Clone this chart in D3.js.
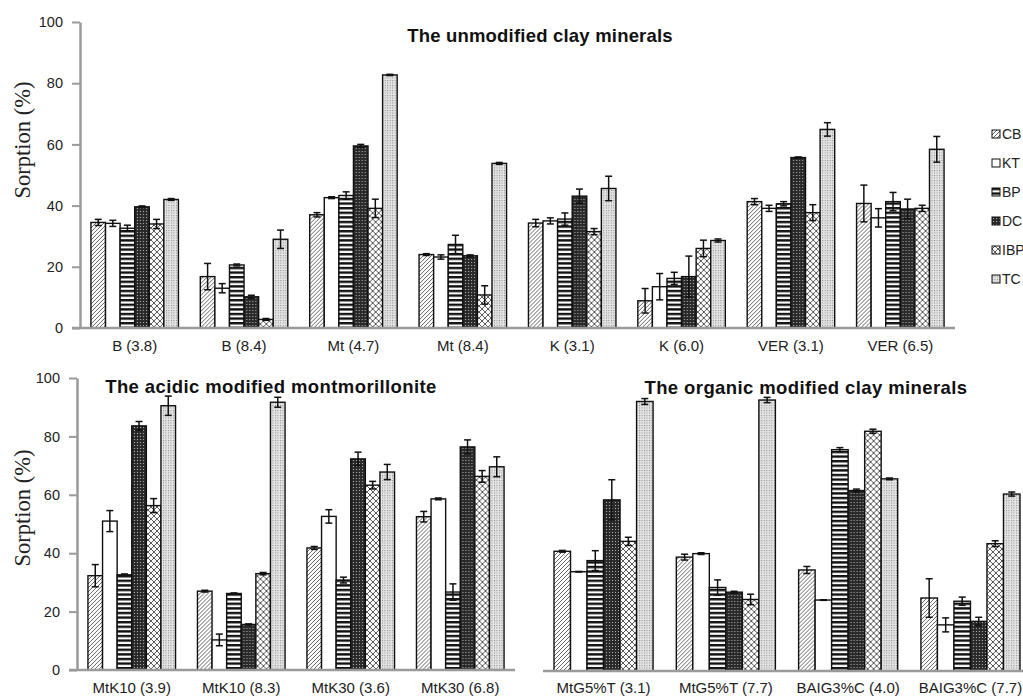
<!DOCTYPE html>
<html>
<head>
<meta charset="utf-8">
<script src="https://cdn.jsdelivr.net/npm/d3@7"></script>
<style>
  body { margin: 0; background: #fff; }
  svg { display: block; }
  .tick text { font-family: 'Liberation Sans', Arial, sans-serif; fill: #222; }
  .title { font-family: 'Liberation Sans', Arial, sans-serif; font-weight: bold; font-size: 18.5px; fill: #111; }
  .axis-label { font-family: 'Liberation Serif', 'Times New Roman', serif; font-size: 22.5px; fill: #222; }
  .legend text { font-family: 'Liberation Sans', Arial, sans-serif; font-size: 14px; fill: #222; }
</style>
</head>
<body>
<svg width="1023" height="699"></svg>
<script>
// series (compounds)
const series = ['CB', 'KT', 'BP', 'DC', 'IBP', 'TC'];

// unmodified clay minerals
const topCategories = ['B (3.8)', 'B (8.4)', 'Mt (4.7)', 'Mt (8.4)', 'K (3.1)', 'K (6.0)', 'VER (3.1)', 'VER (6.5)'];
const topValues = [
  [34.5, 34.2, 32.6, 39.6, 34.0, 42.0],
  [16.8, 13.0, 20.6, 10.2, 2.8, 29.0],
  [37.0, 42.6, 43.3, 59.5, 39.1, 82.7],
  [24.0, 23.2, 27.3, 23.6, 10.8, 53.8],
  [34.3, 35.0, 35.6, 43.1, 31.5, 45.6],
  [8.9, 13.5, 16.2, 16.8, 26.0, 28.6],
  [41.3, 39.1, 40.6, 55.7, 37.7, 64.9],
  [40.7, 36.0, 41.3, 38.9, 39.1, 58.4]
];
const topErrors = [
  [1.0, 1.0, 1.0, 0.3, 1.5, 0.3],
  [4.3, 1.5, 0.3, 0.5, 0.3, 3.0],
  [0.7, 0.3, 1.2, 0.5, 3.0, 0.2],
  [0.3, 0.7, 3.0, 0.3, 3.0, 0.3],
  [1.2, 1.0, 2.0, 2.3, 1.0, 4.0],
  [4.0, 4.3, 2.0, 6.7, 2.7, 0.5],
  [1.0, 1.0, 0.7, 0.2, 2.6, 2.2],
  [6.0, 3.0, 3.0, 3.2, 1.0, 4.2]
];

// acidic modified montmorillonite
const acidCategories = ['MtK10 (3.9)', 'MtK10 (8.3)', 'MtK30 (3.6)', 'MtK30 (6.8)'];
const acidValues = [
  [32.3, 51.0, 32.6, 83.6, 56.3, 90.5],
  [27.0, 10.3, 26.2, 15.6, 33.0, 91.7],
  [41.8, 52.6, 30.8, 72.3, 63.3, 67.8],
  [52.5, 58.6, 26.7, 76.4, 66.3, 69.6]
];
const acidErrors = [
  [3.8, 3.6, 0.3, 1.5, 2.4, 3.3],
  [0.3, 2.0, 0.2, 0.2, 0.4, 1.7],
  [0.5, 2.3, 1.0, 2.3, 1.3, 2.6],
  [1.8, 0.3, 2.8, 2.4, 2.0, 3.4]
];

// organic modified clay minerals
const orgCategories = ['MtG5%T (3.1)', 'MtG5%T (7.7)', 'BAIG3%C (4.0)', 'BAIG3%C (7.7)'];
const orgValues = [
  [41.0, 34.0, 37.8, 58.6, 44.4, 92.3],
  [39.0, 40.2, 28.6, 27.0, 24.5, 92.8],
  [34.6, 24.3, 75.8, 61.8, 82.1, 65.8],
  [25.0, 15.8, 23.9, 17.0, 43.6, 60.6]
];
const orgErrors = [
  [0.3, 0.1, 3.4, 6.9, 1.4, 1.0],
  [1.0, 0.3, 2.6, 0.3, 1.8, 0.9],
  [1.2, 0.1, 0.7, 0.5, 0.7, 0.3],
  [6.6, 2.4, 1.4, 1.4, 1.0, 0.7]
];

const yTicks = [0, 20, 40, 60, 80, 100];

const svg = d3.select('svg');
const defs = svg.append('defs');

// fill patterns, one per series
const pCB = defs.append('pattern').attr('id', 'p-CB')
  .attr('patternUnits', 'userSpaceOnUse').attr('width', 4).attr('height', 4);
pCB.append('rect').attr('width', 4).attr('height', 4).attr('fill', '#fff');
pCB.append('path').attr('d', 'M-1,1 l2,-2 M0,4 l4,-4 M3,5 l2,-2')
  .attr('stroke', '#555').attr('stroke-width', 0.9);

const pKT = defs.append('pattern').attr('id', 'p-KT')
  .attr('patternUnits', 'userSpaceOnUse').attr('width', 4).attr('height', 4);
pKT.append('rect').attr('width', 4).attr('height', 4).attr('fill', '#fff');

const pBP = defs.append('pattern').attr('id', 'p-BP')
  .attr('patternUnits', 'userSpaceOnUse').attr('width', 4).attr('height', 4.6);
pBP.append('rect').attr('width', 4).attr('height', 4.6).attr('fill', '#fff');
pBP.append('rect').attr('width', 4).attr('height', 2.4).attr('fill', '#111');

const pDC = defs.append('pattern').attr('id', 'p-DC')
  .attr('patternUnits', 'userSpaceOnUse').attr('width', 3).attr('height', 3);
pDC.append('rect').attr('width', 3).attr('height', 3).attr('fill', '#2a2a2a');
pDC.append('rect').attr('x', 1).attr('y', 1).attr('width', 1).attr('height', 1).attr('fill', '#b0b0b0');

const pIBP = defs.append('pattern').attr('id', 'p-IBP')
  .attr('patternUnits', 'userSpaceOnUse').attr('width', 6).attr('height', 6);
pIBP.append('rect').attr('width', 6).attr('height', 6).attr('fill', '#fff');
pIBP.append('path').attr('d', 'M0,0 L6,6 M6,0 L0,6')
  .attr('stroke', '#444').attr('stroke-width', 0.9);

const pTC = defs.append('pattern').attr('id', 'p-TC')
  .attr('patternUnits', 'userSpaceOnUse').attr('width', 2.5).attr('height', 2.5);
pTC.append('rect').attr('width', 2.5).attr('height', 2.5).attr('fill', '#e4e4e4');
pTC.append('rect').attr('width', 1).attr('height', 1).attr('fill', '#888');

const fillOf = s => `url(#p-${s})`;

const drawPanel = (opts) => {
  const { categories, values, errors, xRange, yRange, padInner, padOuter, showY, labelPad, labelY, title } = opts;

  const xScale = d3.scaleBand()
    .domain(categories)
    .range(xRange)
    .paddingInner(padInner)
    .paddingOuter(padOuter);

  const xInner = d3.scaleBand()
    .domain(series)
    .range([0, xScale.bandwidth()]);

  const yScale = d3.scaleLinear()
    .domain([0, 100])
    .range(yRange);

  const g = svg.append('g');

  if (showY) {
    const yAxis = d3.axisLeft(yScale)
      .tickValues(yTicks)
      .tickSize(8)
      .tickPadding(9)
      .tickSizeOuter(0);
    const yAxisG = g.append('g')
      .attr('transform', `translate(${xRange[0]}, 0)`)
      .call(yAxis);
    yAxisG.select('.domain').attr('stroke', '#9a9a9a').attr('stroke-width', 2.5);
    yAxisG.selectAll('.tick line').attr('stroke', '#9a9a9a').attr('stroke-width', 2);
    yAxisG.selectAll('.tick text').attr('font-size', 14.5);

    g.append('text')
      .attr('class', 'axis-label')
      .attr('text-anchor', 'middle')
      .attr('transform', `translate(30, ${labelY}) rotate(-90)`)
      .text('Sorption (%)');
  }

  const groups = g.selectAll('.group').data(categories)
    .enter().append('g')
      .attr('class', 'group')
      .attr('transform', d => `translate(${xScale(d)}, 0)`);

  const cells = groups.selectAll('.cell')
    .data((d, i) => series.map((s, j) => ({ s, v: values[i][j], e: errors[i][j] })))
    .enter().append('g')
      .attr('class', 'cell');

  cells.append('rect')
    .attr('x', d => xInner(d.s))
    .attr('y', d => yScale(d.v))
    .attr('width', xInner.bandwidth())
    .attr('height', d => yScale(0) - yScale(d.v))
    .attr('fill', d => fillOf(d.s))
    .attr('stroke', '#111')
    .attr('stroke-width', 1.4);

  const cx = d => xInner(d.s) + xInner.bandwidth() / 2;
  cells.append('line')
    .attr('x1', cx).attr('x2', cx)
    .attr('y1', d => yScale(d.v + d.e))
    .attr('y2', d => yScale(d.v - d.e))
    .attr('stroke', '#111').attr('stroke-width', 1.5);
  cells.append('line')
    .attr('x1', d => cx(d) - 3.5).attr('x2', d => cx(d) + 3.5)
    .attr('y1', d => yScale(d.v + d.e)).attr('y2', d => yScale(d.v + d.e))
    .attr('stroke', '#111').attr('stroke-width', 1.5);
  cells.append('line')
    .attr('x1', d => cx(d) - 3.5).attr('x2', d => cx(d) + 3.5)
    .attr('y1', d => yScale(d.v - d.e)).attr('y2', d => yScale(d.v - d.e))
    .attr('stroke', '#111').attr('stroke-width', 1.5);

  const xAxis = d3.axisBottom(xScale)
    .tickSize(0)
    .tickPadding(labelPad)
    .tickSizeOuter(0);
  const xAxisG = g.append('g')
    .attr('transform', `translate(0, ${yRange[0]})`)
    .call(xAxis);
  xAxisG.select('.domain').attr('stroke', '#9a9a9a').attr('stroke-width', 2.5)
    .attr('d', `M${showY ? xRange[0] - 8 : xRange[0]},0H${xRange[1]}`);
  xAxisG.selectAll('.tick text').attr('font-size', 15);

  g.append('text')
    .attr('class', 'title')
    .attr('text-anchor', 'middle')
    .attr('x', title.x)
    .attr('y', title.y)
    .attr('letter-spacing', title.spacing || 0)
    .text(title.text);
};

drawPanel({
  categories: topCategories, values: topValues, errors: topErrors,
  xRange: [80, 955], yRange: [328, 22], padInner: 0.2, padOuter: 0.1,
  showY: true, labelPad: 12, labelY: 140,
  title: { text: 'The unmodified clay minerals', x: 540, y: 42, spacing: 0.2 }
});

drawPanel({
  categories: acidCategories, values: acidValues, errors: acidErrors,
  xRange: [77, 515], yRange: [670, 378], padInner: 0.2, padOuter: 0.1,
  showY: true, labelPad: 12, labelY: 508,
  title: { text: 'The acidic modified  montmorillonite', x: 271, y: 393, spacing: 0.4 }
});

drawPanel({
  categories: orgCategories, values: orgValues, errors: orgErrors,
  xRange: [543, 1031], yRange: [671, 379], padInner: 0.19, padOuter: 0.09,
  showY: false, labelPad: 11, labelY: 0,
  title: { text: 'The organic modified clay minerals', x: 806, y: 394, spacing: 0.4 }
});

// legend
const legend = svg.append('g').attr('class', 'legend')
  .attr('transform', 'translate(992, 139)');
const items = legend.selectAll('g').data(series)
  .enter().append('g')
    .attr('transform', (d, i) => `translate(0, ${i * 29})`);
items.append('rect')
  .attr('x', 0).attr('y', -9)
  .attr('width', 8).attr('height', 8)
  .attr('fill', d => fillOf(d))
  .attr('stroke', '#111').attr('stroke-width', 1);
items.append('text')
  .attr('x', 10).attr('y', 0)
  .text(d => d);
</script>
</body>
</html>
